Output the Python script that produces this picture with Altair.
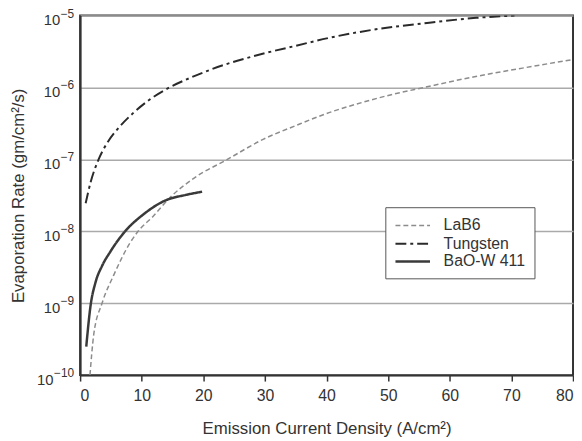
import altair as alt
import pandas as pd

# ---- data ----
series_order = ["LaB6", "Tungsten", "BaO-W 411"]

lab6_x = [1.6, 2.2, 3.56, 5.4, 8.1, 9.4, 11.8, 14.5, 18.5, 23.9, 29.7, 35.0, 40.4, 45.7, 50.5, 55.8, 63.8, 71.8, 80.0]
lab6_y = [1.0e-10, 3.6e-10, 1.0e-9, 2.4e-9, 6.9e-9, 1.0e-8, 1.6e-8, 2.9e-8, 5.5e-8, 1.0e-7, 1.9e-7, 2.95e-7,
          4.47e-7, 6.17e-7, 7.94e-7, 1.0e-6, 1.4e-6, 1.86e-6, 2.45e-6]

tungsten_x = [0.9, 1.7, 3.0, 4.6, 6.5, 8.6, 11.3, 14.5, 18.2, 21.4, 30.0, 35.0, 40.4, 48.3, 56.3, 64.3, 70.5]
tungsten_y = [2.45e-8, 4.8e-8, 1.0e-7, 1.8e-7, 2.9e-7, 4.4e-7, 6.8e-7, 1.0e-6, 1.4e-6, 1.8e-6, 3.0e-6, 3.8e-6,
              4.9e-6, 6.5e-6, 7.9e-6, 9.3e-6, 1.0e-5]

bao_x = [1.0, 1.7, 2.5, 3.56, 4.9, 7.3, 10.2, 13.9, 17.1, 19.8]
bao_y = [2.5e-10, 9.3e-10, 1.95e-9, 3.3e-9, 5.2e-9, 1.0e-8, 1.7e-8, 2.7e-8, 3.2e-8, 3.55e-8]

x_ticks = [0, 10, 20, 30, 40, 50, 60, 70, 80]
y_ticks = [1e-10, 1e-9, 1e-8, 1e-7, 1e-6, 1e-5]
y_tick_base = ["10", "10", "10", "10", "10", "10"]
y_tick_exponents = ["−10", "−9", "−8", "−7", "−6", "−5"]

x_title = "Emission Current Density (A/cm²)"
y_title = "Evaporation Rate (gm/cm²/s)"

# ---- build tables ----
rows = []
for name, xs, ys in [("LaB6", lab6_x, lab6_y), ("Tungsten", tungsten_x, tungsten_y), ("BaO-W 411", bao_x, bao_y)]:
    for xv, yv in zip(xs, ys):
        rows.append({"series": name, "x": xv, "y": yv})
df = pd.DataFrame(rows)

tick_df = pd.DataFrame({"y": y_ticks, "base": y_tick_base, "exp": y_tick_exponents})

FONT = "Liberation Sans, Arial, sans-serif"
EXP_SIZE = 12
BASE_SIZE = 15

y_scale = alt.Scale(type="log", domain=[1e-10, 1e-5], nice=False)

legend = alt.Legend(
    title=None,
    orient="none",
    legendX=309,
    legendY=194,
    strokeColor="#555555",
    fillColor="white",
    padding=9,
    symbolType="M-1,0H3",
    symbolSize=306,
    labelFontSize=16,
    labelFont=FONT,
    labelColor="#333333",
    labelOffset=30,
    rowPadding=0,
)

lines = alt.Chart(df).mark_line(interpolate="monotone", clip=True).encode(
    x=alt.X(
        "x:Q",
        scale=alt.Scale(domain=[0, 80], nice=False, zero=False),
        axis=alt.Axis(
            values=x_ticks,
            title=x_title,
            grid=False,
            tickSize=6,
            tickColor="#333333",
            tickWidth=1.5,
            labelPadding=7,
            labelFontSize=16,
            titleFontSize=17,
            titleY=46,
        ),
    ),
    y=alt.Y(
        "y:Q",
        scale=y_scale,
        axis=alt.Axis(
            values=y_ticks,
            labels=False,
            title=y_title,
            grid=True,
            ticks=False,
            titleFontSize=17,
            titleX=-53,
        ),
    ),
    color=alt.Color("series:N", scale=alt.Scale(domain=series_order, range=["#8c8c8c", "#2a2a2a", "#3a3a3a"]), legend=legend),
    strokeDash=alt.StrokeDash("series:N", scale=alt.Scale(domain=series_order, range=[[5, 3], [11, 4, 3, 4], [1, 0]]), legend=legend),
    strokeWidth=alt.StrokeWidth("series:N", scale=alt.Scale(domain=series_order, range=[1.5, 2.5, 2.0]), legend=legend),
)

# y tick labels as 10 with a raised exponent
exp_labels = alt.Chart(tick_df).mark_text(
    align="right", baseline="alphabetic", dy=2, font=FONT, fontSize=EXP_SIZE, color="#333333", clip=False
).encode(
    x=alt.value(-6),
    y=alt.Y("y:Q", scale=y_scale),
    text="exp:N",
)

base_labels = alt.Chart(tick_df).transform_calculate(
    off=f"-({0.584 * EXP_SIZE} + {0.556 * EXP_SIZE} * (length(datum.exp) - 1)) - 0.5"
).mark_text(
    align="right", baseline="alphabetic", dy=9.5, font=FONT, fontSize=BASE_SIZE, color="#333333", clip=False
).encode(
    x=alt.value(-6),
    xOffset=alt.XOffset("off:Q", scale=None),
    y=alt.Y("y:Q", scale=y_scale),
    text="base:N",
)

chart = alt.layer(lines, exp_labels, base_labels).properties(
    width=499,
    height=364,
    autosize=alt.AutoSizeParams(type="none"),
    padding={"left": 73, "top": 5, "right": 1, "bottom": 64},
).configure_view(
    stroke="#333333",
    strokeWidth=2,
).configure_axis(
    domainColor="#333333",
    domainWidth=2,
    gridColor="#aaaaaa",
    gridWidth=1.5,
    labelColor="#333333",
    titleColor="#333333",
    labelFont=FONT,
    titleFont=FONT,
    titleFontWeight="normal",
)

chart.save("out.html", embed_options={"renderer": "svg", "actions": False})
